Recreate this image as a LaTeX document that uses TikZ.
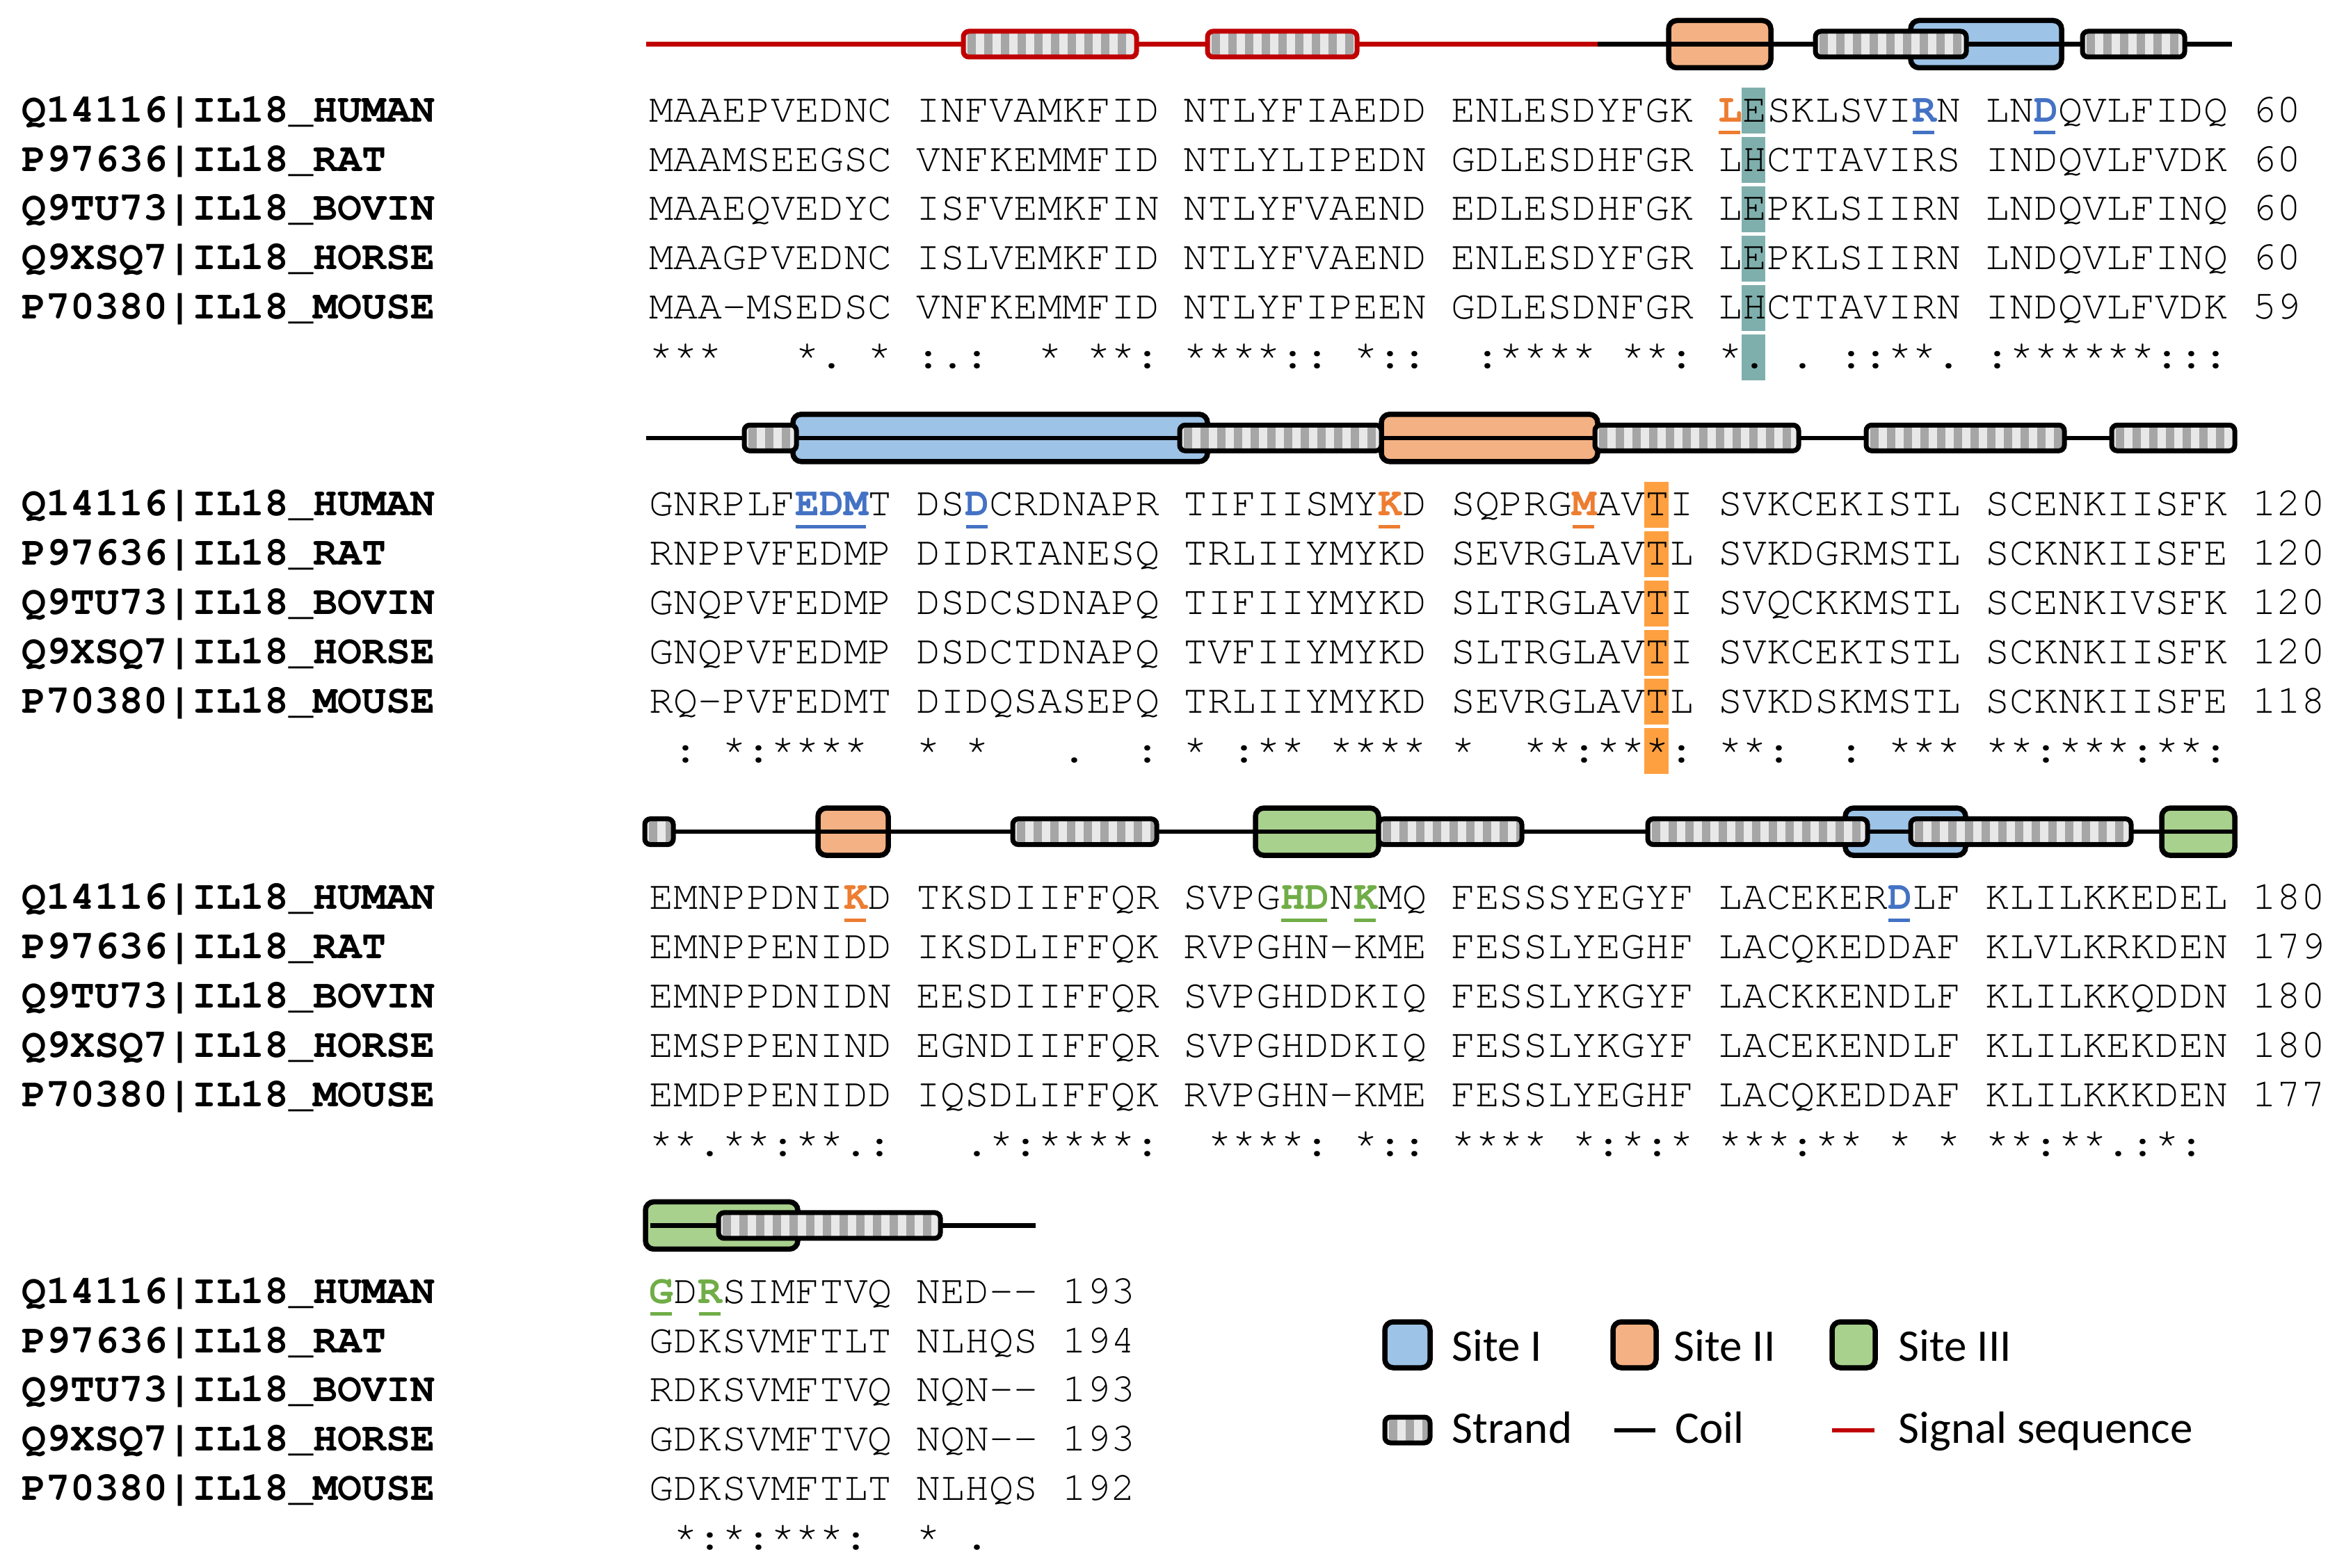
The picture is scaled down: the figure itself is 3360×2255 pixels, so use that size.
\documentclass[tikz,border=0pt]{standalone}
\usepackage{fontspec}
\setmonofont{TeX Gyre Cursor}
\newfontfamily\legfont{Carlito}
\definecolor{siteblue}{HTML}{9DC3E6}
\definecolor{siteorange}{HTML}{F4B183}
\definecolor{sitegreen}{HTML}{A9D18E}
\definecolor{txo}{HTML}{ED7D31}
\definecolor{txb}{HTML}{4472C4}
\definecolor{txg}{HTML}{70AD47}
\definecolor{tealc}{HTML}{7FAFAC}
\definecolor{orangec}{HTML}{FFA040}
\definecolor{sigred}{HTML}{C00000}
\definecolor{stripelt}{HTML}{E8E8E8}
\definecolor{stripedk}{HTML}{A6A6A6}
\tikzset{
 seq/.style={anchor=base west, inner sep=0pt, font=\ttfamily\fontsize{16.55pt}{20pt}\selectfont},
 nm/.style={anchor=base west, inner sep=0pt, font=\ttfamily\bfseries\fontsize{16.55pt}{20pt}\selectfont},
 leg/.style={anchor=base west, inner sep=0pt, font=\legfont\fontsize{18.5pt}{22pt}\selectfont},
 sitebd/.style={line width=0.075cm, rounded corners=0.12cm},
 strandbd/.style={line width=0.07cm, rounded corners=0.08cm},
 coilln/.style={line width=0.065cm},
}
\newcommand\rs[2]{{\bfseries\color{#1}#2}}
\newcommand\SiteBox[5]{\draw[sitebd,fill=#5] (#1,#3) rectangle (#2,#4);}
\newcommand\StrandBox[5]{%
 \begin{scope}
 \clip[rounded corners=0.08cm] (#1,#3) rectangle (#2,#4);
 \fill[stripelt] (#1,#3) rectangle (#2,#4);
 \pgfmathsetmacro\stA{#1+6}\pgfmathsetmacro\stB{#1+30}
 \foreach \s in {\stA,\stB,...,#2} {\fill[stripedk] (\s,#3) rectangle (\s+12,#4);}
 \end{scope}
 \draw[strandbd,draw=#5] (#1,#3) rectangle (#2,#4);}
\newcommand\CoilLine[4]{\draw[coilln,draw=#4] (#1,#3) -- (#2,#3);}
\newcommand\HlCol[2]{\foreach \i in {0,...,5} {\fill[#2] ({933+34.9*#1},{126.5+70.9*\i}) rectangle ({933+34.9*(#1+1)},{192.5+70.9*\i});}}
\newcommand\ULine[3]{\fill[#3] ({933+34.9*#1+2},188.5) rectangle ({933+34.9*(#2+1)-2},193.5);}
\newcommand\Names[1]{%
 \node[nm] (#1n1) at (31,175.2) {Q14116|IL18\_HUMAN};
 \node[nm] (#1n2) at (31,246.1) {P97636|IL18\_RAT};
 \node[nm] (#1n3) at (31,317.0) {Q9TU73|IL18\_BOVIN};
 \node[nm] (#1n4) at (31,387.9) {Q9XSQ7|IL18\_HORSE};
 \node[nm] (#1n5) at (31,458.8) {P70380|IL18\_MOUSE};}
\begin{document}
\begin{tikzpicture}[x=0.01cm,y=-0.01cm]
\fill[white] (0,0) rectangle (3360,2255);
\useasboundingbox (0,0) rectangle (3360,2255);

% ---------------- block 1
\begin{scope}
\HlCol{45}{tealc}
\ULine{44}{44}{txo}\ULine{52}{52}{txb}\ULine{57}{57}{txb}
\SiteBox{2399}{2546}{29.5}{97.5}{siteorange}
\SiteBox{2747}{2964}{29.5}{97.5}{siteblue}
\CoilLine{929}{2297}{63.5}{sigred}
\CoilLine{2297}{3209}{63.5}{black}
\StrandBox{1385}{1634}{45}{82}{sigred}
\StrandBox{1736}{1951}{45}{82}{sigred}
\StrandBox{2610}{2827}{45}{82}{black}
\StrandBox{2994}{3141}{45}{82}{black}
\Names{b1}
\node[seq] (b1s1) at (933,175.2) {MAAEPVEDNC INFVAMKFID NTLYFIAEDD ENLESDYFGK \rs{txo}{L}ESKLSVI\rs{txb}{R}N LN\rs{txb}{D}QVLFIDQ 60};
\node[seq] (b1s2) at (933,246.1) {MAAMSEEGSC VNFKEMMFID NTLYLIPEDN GDLESDHFGR LHCTTAVIRS INDQVLFVDK 60};
\node[seq] (b1s3) at (933,317.0) {MAAEQVEDYC ISFVEMKFIN NTLYFVAEND EDLESDHFGK LEPKLSIIRN LNDQVLFINQ 60};
\node[seq] (b1s4) at (933,387.9) {MAAGPVEDNC ISLVEMKFID NTLYFVAEND ENLESDYFGR LEPKLSIIRN LNDQVLFINQ 60};
\node[seq] (b1s5) at (933,458.8) {MAA-MSEDSC VNFKEMMFID NTLYFIPEEN GDLESDNFGR LHCTTAVIRN INDQVLFVDK 59};
\node[seq] (b1c) at (933,529.7) {***~~~*.~*~:.:~~*~**:~****::~*::~~:****~**:~*.~.~::**.~:******:::};
\end{scope}

% ---------------- block 2
\begin{scope}[shift={(0,566.3)}]
\HlCol{41}{orangec}
\ULine{6}{8}{txb}\ULine{13}{13}{txb}\ULine{30}{30}{txo}\ULine{38}{38}{txo}
\SiteBox{1140}{1736}{29.5}{97.5}{siteblue}
\SiteBox{1986}{2297}{29.5}{97.5}{siteorange}
\CoilLine{929}{3210}{63.5}{black}
\StrandBox{1070}{1145}{45}{82}{black}
\StrandBox{1696}{1986}{45}{82}{black}
\StrandBox{2293}{2586}{45}{82}{black}
\StrandBox{2683}{2968}{45}{82}{black}
\StrandBox{3036}{3213}{45}{82}{black}
\Names{b2}
\node[seq] (b2s1) at (933,175.2) {GNRPLF\rs{txb}{EDM}T DS\rs{txb}{D}CRDNAPR TIFIISMY\rs{txo}{K}D SQPRG\rs{txo}{M}AVTI SVKCEKISTL SCENKIISFK 120};
\node[seq] (b2s2) at (933,246.1) {RNPPVFEDMP DIDRTANESQ TRLIIYMYKD SEVRGLAVTL SVKDGRMSTL SCKNKIISFE 120};
\node[seq] (b2s3) at (933,317.0) {GNQPVFEDMP DSDCSDNAPQ TIFIIYMYKD SLTRGLAVTI SVQCKKMSTL SCENKIVSFK 120};
\node[seq] (b2s4) at (933,387.9) {GNQPVFEDMP DSDCTDNAPQ TVFIIYMYKD SLTRGLAVTI SVKCEKTSTL SCKNKIISFK 120};
\node[seq] (b2s5) at (933,458.8) {RQ-PVFEDMT DIDQSASEPQ TRLIIYMYKD SEVRGLAVTL SVKDSKMSTL SCKNKIISFE 118};
\node[seq] (b2c) at (933,529.7) {~:~*:****~~*~*~~~.~~:~*~:**~****~*~~**:***:~**:~~:~***~**:***:**:};
\end{scope}

% ---------------- block 3
\begin{scope}[shift={(0,1132.6)}]
\ULine{8}{8}{txo}\ULine{26}{27}{txg}\ULine{29}{29}{txg}\ULine{51}{51}{txb}
\SiteBox{1176}{1277}{29.5}{97.5}{siteorange}
\SiteBox{1805}{1982}{29.5}{97.5}{sitegreen}
\SiteBox{2653}{2826}{29.5}{97.5}{siteblue}
\SiteBox{3108}{3213}{29.5}{97.5}{sitegreen}
\CoilLine{940}{3210}{63.5}{black}
\StrandBox{927}{968}{45}{82}{black}
\StrandBox{1456}{1663}{45}{82}{black}
\StrandBox{1982}{2188}{45}{82}{black}
\StrandBox{2369}{2685}{45}{82}{black}
\StrandBox{2747}{3064}{45}{82}{black}
\Names{b3}
\node[seq] (b3s1) at (933,175.2) {EMNPPDNI\rs{txo}{K}D TKSDIIFFQR SVPG\rs{txg}{HD}N\rs{txg}{K}MQ FESSSYEGYF LACEKER\rs{txb}{D}LF KLILKKEDEL 180};
\node[seq] (b3s2) at (933,246.1) {EMNPPENIDD IKSDLIFFQK RVPGHN-KME FESSLYEGHF LACQKEDDAF KLVLKRKDEN 179};
\node[seq] (b3s3) at (933,317.0) {EMNPPDNIDN EESDIIFFQR SVPGHDDKIQ FESSLYKGYF LACKKENDLF KLILKKQDDN 180};
\node[seq] (b3s4) at (933,387.9) {EMSPPENIND EGNDIIFFQR SVPGHDDKIQ FESSLYKGYF LACEKENDLF KLILKEKDEN 180};
\node[seq] (b3s5) at (933,458.8) {EMDPPENIDD IQSDLIFFQK RVPGHN-KME FESSLYEGHF LACQKEDDAF KLILKKKDEN 177};
\node[seq] (b3c) at (933,529.7) {**.**:**.:~~~.*:****:~~****:~*::~****~*:*:*~***:**~*~*~**:**.:*:};
\end{scope}

% ---------------- block 4
\begin{scope}[shift={(0,1698.9)}]
\ULine{0}{0}{txg}\ULine{2}{2}{txg}
\SiteBox{928}{1147}{29.5}{97.5}{sitegreen}
\CoilLine{935}{1489}{63.5}{black}
\StrandBox{1033}{1352}{45}{82}{black}
\Names{b4}
\node[seq] (b4s1) at (933,175.2) {\rs{txg}{G}D\rs{txg}{R}SIMFTVQ NED-- 193};
\node[seq] (b4s2) at (933,246.1) {GDKSVMFTLT NLHQS 194};
\node[seq] (b4s3) at (933,317.0) {RDKSVMFTVQ NQN-- 193};
\node[seq] (b4s4) at (933,387.9) {GDKSVMFTVQ NQN-- 193};
\node[seq] (b4s5) at (933,458.8) {GDKSVMFTLT NLHQS 192};
\node[seq] (b4c) at (933,529.7) {~*:*:***:~~*~.};
\end{scope}

% ---------------- legend
\SiteBox{1991}{2056}{1901}{1967}{siteblue}
\SiteBox{2319}{2381}{1901}{1967}{siteorange}
\SiteBox{2634}{2696}{1901}{1967}{sitegreen}
\StrandBox{1991}{2056}{2038}{2075}{black}
\CoilLine{2321}{2380}{2057}{black}
\CoilLine{2634}{2695}{2057}{sigred}
\node[leg] (lg1) at (2087,1957) {Site I};
\node[leg] (lg2) at (2406,1957) {Site II};
\node[leg] (lg3) at (2729,1957) {Site III};
\node[leg] (lg4) at (2087,2075) {Strand};
\node[leg] (lg5) at (2408,2075) {Coil};
\node[leg] (lg6) at (2729,2075) {Signal sequence};
\end{tikzpicture}
\end{document}
